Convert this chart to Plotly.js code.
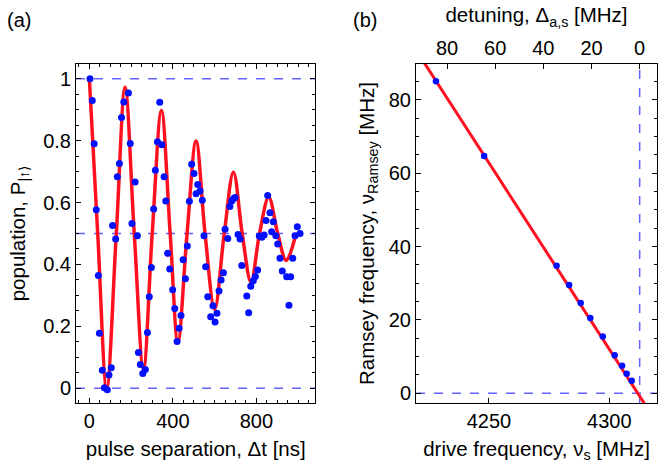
<!DOCTYPE html>
<html><head><meta charset="utf-8">
<script src="https://cdn.plot.ly/plotly-3.0.1.min.js"></script>
<style>html,body{margin:0;padding:0;background:#fff}#plot{width:658px;height:464px}</style>
</head><body><div id="plot"></div>
<script>
// Panel (a): Ramsey fringes
const pulseSep = [3,14,23,33,43,48,62,72,86,94,105,111,126,134,144,154,165,187,196,204,219,230,235,244,256,268,278,287,297,308,316,326,337,347,358,366,375,385,399,409,420,430,439,449,460,469,479,490,501,511,519,530,541,549,557,567,581,592,602,611,621,631,642,650,663,673,682,691,698,712,722,730,754,763,773,785,795,806,814,826,837,846,854,865,873,881,893,902,913,924,945,956,964,974,985,996,1009];
const population = [1.00,0.93,0.79,0.577,0.364,0.178,0.058,0.002,-0.005,0.043,0.066,0.526,0.482,0.683,0.726,0.875,0.925,0.954,0.791,0.532,0.666,0.493,0.116,0.077,0.048,0.061,0.18,0.296,0.39,0.579,0.704,0.796,0.924,0.787,0.683,0.605,0.436,0.385,0.318,0.258,0.151,0.194,0.235,0.415,0.354,0.46,0.604,0.724,0.694,0.628,0.658,0.637,0.607,0.493,0.393,0.296,0.231,0.267,0.214,0.242,0.314,0.35,0.373,0.514,0.484,0.587,0.605,0.613,0.616,0.497,0.482,0.397,0.298,0.244,0.33,0.347,0.361,0.382,0.492,0.488,0.495,0.542,0.623,0.567,0.506,0.538,0.493,0.466,0.42,0.379,0.36,0.268,0.36,0.42,0.493,0.522,0.50];
// fit curve read at extrema and mid-crossings
const fitT = [0,40,83,129,171,215,259,301,345,387,424,468,511,554,600,646,690,732,774,815,859,902,943,990];
const fitP = [1.0,0.5,0.0,0.5,0.972,0.5,0.062,0.5,0.897,0.5,0.149,0.5,0.799,0.5,0.255,0.5,0.698,0.5,0.343,0.5,0.617,0.5,0.413,0.5];
const refLevelsA = [0, 0.5, 1];

// Panel (b): Ramsey frequency vs drive frequency
const driveFreq = [4228.0,4248.0,4278.1,4283.3,4288.1,4292.1,4297.3,4302.2,4305.3,4307.2,4309.3];
const ramseyFreq = [85.1,64.7,34.8,29.5,24.6,20.5,15.5,10.4,7.5,5.3,3.4];
const fitNu = [4215, 4325];
const fitRamsey = [98.4, -13.4];
const resonance = 4312.6;   // drive frequency at zero detuning
const xRangeB = [4219.7, 4319.8];

const F = 'Liberation Sans, Arial, sans-serif';
const fs = 20;
const ts = 20.5;
const dashCol = 'rgba(60,60,255,0.8)';

const traces = [
  {x: fitT, y: fitP, mode: 'lines', line: {color: '#ff1020', width: 3.5, shape: 'spline', smoothing: 1}, xaxis: 'x', yaxis: 'y', hoverinfo: 'skip'},
  {x: pulseSep, y: population, mode: 'markers', marker: {color: '#0010ff', size: 7}, xaxis: 'x', yaxis: 'y'},
  {x: fitNu, y: fitRamsey, mode: 'lines', line: {color: '#ff1020', width: 3}, xaxis: 'x2', yaxis: 'y2'},
  {x: driveFreq, y: ramseyFreq, mode: 'markers', marker: {color: '#0010ff', size: 6.5}, xaxis: 'x2', yaxis: 'y2'},
  {x: [resonance - xRangeB[0]], y: [null], mode: 'markers', xaxis: 'x3', yaxis: 'y2', showlegend: false}
];

const shapes = [];
refLevelsA.forEach(v => shapes.push({type: 'line', xref: 'x domain', yref: 'y', x0: 0, x1: 1, y0: v, y1: v, line: {color: dashCol, width: 1.5, dash: '9px,9px'}, layer: 'below'}));
shapes.push({type: 'line', xref: 'x2 domain', yref: 'y2', x0: 0, x1: 1, y0: 0, y1: 0, line: {color: dashCol, width: 1.5, dash: '9px,9px'}, layer: 'below'});
shapes.push({type: 'line', xref: 'x2', yref: 'y2 domain', x0: resonance, x1: resonance, y0: 0, y1: 1, line: {color: dashCol, width: 1.5, dash: '9px,9px'}, layer: 'below'});

const common = {showline: true, linecolor: '#000', linewidth: 1, ticks: 'inside', tickcolor: '#000', ticklen: 5, showgrid: false, zeroline: false, tickfont: {family: F, size: fs, color: '#000'}};

const layout = {
  width: 658, height: 464,
  margin: {l: 76, r: 1, t: 64, b: 61},
  paper_bgcolor: '#fff', plot_bgcolor: '#fff',
  showlegend: false,
  font: {family: F, size: fs, color: '#000'},
  xaxis: Object.assign({}, common, {domain: [0, 0.4122], range: [-64, 1083], dtick: 400, tick0: 0, mirror: 'ticks',
    minor: {dtick: 50, tick0: 0, ticklen: 3, tickcolor: '#000', ticks: 'inside'},
    title: {text: 'pulse separation, Δt [ns]', font: {family: F, size: ts}, standoff: 10}}),
  yaxis: Object.assign({}, common, {domain: [0, 1], range: [-0.0475, 1.0475], dtick: 0.2, tick0: 0, mirror: 'ticks',
    minor: {dtick: 0.05, tick0: 0, ticklen: 3, tickcolor: '#000', ticks: 'inside'},
    title: {text: 'population, P<sub>|↑⟩</sub>', font: {family: F, size: ts}, standoff: 12}}),
  xaxis2: Object.assign({}, common, {domain: [0.5852, 1], range: xRangeB, dtick: 50, tick0: 4200, anchor: 'y2', mirror: false,
    title: {text: 'drive frequency, ν<sub>s</sub> [MHz]', font: {family: F, size: ts}, standoff: 10}}),
  xaxis3: Object.assign({}, common, {overlaying: 'x2', side: 'top', anchor: 'y2', range: [resonance - xRangeB[0], resonance - xRangeB[1]], dtick: 20, tick0: 0,
    title: {text: 'detuning, Δ<sub>a,s</sub> [MHz]', font: {family: F, size: ts}, standoff: 8}}),
  yaxis2: Object.assign({}, common, {domain: [0, 1], anchor: 'x2', range: [-2.65, 89.8], dtick: 20, tick0: 0, mirror: 'ticks',
    minor: {dtick: 5, tick0: 0, ticklen: 3, tickcolor: '#000', ticks: 'inside'},
    title: {text: 'Ramsey frequency, ν<sub>Ramsey</sub> [MHz]', font: {family: F, size: ts}, standoff: 8}}),
  shapes: shapes,
  annotations: [
    {text: '(a)', xref: 'paper', yref: 'paper', x: -0.122, y: 1.13, xanchor: 'left', yanchor: 'middle', showarrow: false, font: {family: F, size: fs}},
    {text: '(b)', xref: 'paper', yref: 'paper', x: 0.473, y: 1.13, xanchor: 'left', yanchor: 'middle', showarrow: false, font: {family: F, size: fs}}
  ]
};

Plotly.newPlot('plot', traces, layout, {displayModeBar: false, staticPlot: true});
</script></body></html>
